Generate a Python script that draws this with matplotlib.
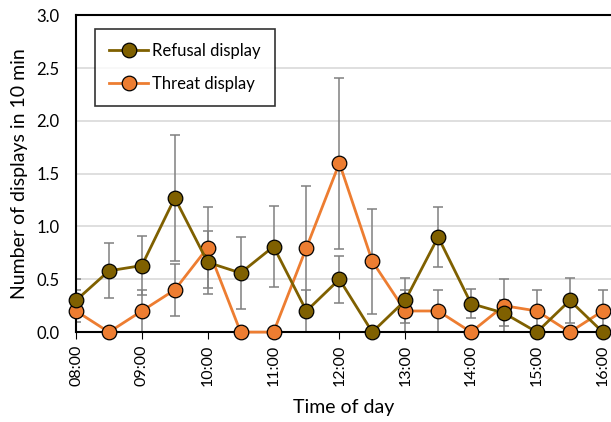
import numpy as np
import matplotlib.pyplot as plt

plt.rcParams['font.family'] = ['Lato', 'DejaVu Sans']

times = ["08:00", "08:30", "09:00", "09:30", "10:00", "10:30", "11:00", "11:30",
         "12:00", "12:30", "13:00", "13:30", "14:00", "14:30", "15:00", "15:30", "16:00"]
refusal = [0.30, 0.58, 0.63, 1.27, 0.66, 0.56, 0.81, 0.20,
           0.50, 0.00, 0.30, 0.90, 0.27, 0.18, 0.00, 0.30, 0.00]
refusal_err = [0.20, 0.26, 0.28, 0.60, 0.30, 0.34, 0.38, 0.20,
               0.22, 0.00, 0.21, 0.28, 0.14, 0.12, 0.00, 0.21, 0.00]
threat = [0.20, 0.00, 0.20, 0.40, 0.80, 0.00, 0.00, 0.80,
          1.60, 0.67, 0.20, 0.20, 0.00, 0.25, 0.20, 0.00, 0.20]
threat_err = [0.20, 0.00, 0.20, 0.245, 0.38, 0.00, 0.00, 0.58,
              0.81, 0.50, 0.20, 0.20, 0.00, 0.25, 0.20, 0.00, 0.20]

x = np.arange(len(times))

fig = plt.figure(figsize=(6.11, 4.22), dpi=100)
ax = fig.add_axes([0.1244, 0.213, 0.8756, 0.751])

for vals, errs in [(refusal, refusal_err), (threat, threat_err)]:
    ax.errorbar(x, vals, yerr=errs, fmt="none", ecolor="#808080",
                elinewidth=1.1, capsize=3.5, capthick=1.1, zorder=2)

ax.plot(x, refusal, color="#7F6000", lw=2, marker="o", ms=10.5,
        mfc="#7F6000", mec="black", mew=0.9, label="Refusal display",
        zorder=4, clip_on=False)
ax.plot(x, threat, color="#ED7D31", lw=2, marker="o", ms=10.5,
        mfc="#ED7D31", mec="black", mew=0.9, label="Threat display",
        zorder=3, clip_on=False)

ax.set_xlim(0, 16.25)
ax.set_ylim(0, 3.0)
yt = np.arange(0, 3.01, 0.5)
ax.set_yticks(yt)
ax.set_yticklabels([f"{v:.1f}" for v in yt], fontsize=12)
ax.set_xticks(x[::2])
ax.set_xticklabels(times[::2], rotation=90, fontsize=11.5)
ax.tick_params(axis="y", length=0, pad=12)
ax.tick_params(axis="x", length=5, direction="out", color="black", pad=4)
ax.yaxis.grid(True, color="#d9d9d9", lw=1.2)
ax.set_axisbelow(True)

for s in ax.spines.values():
    s.set_linewidth(1.5)
    s.set_color("black")
ax.spines["right"].set_visible(False)

ax.set_xlabel("Time of day", fontsize=14, labelpad=9)
ax.set_ylabel("Number of displays in 10 min", fontsize=14, labelpad=6)

leg = ax.legend(loc="upper left", bbox_to_anchor=(0.036, 0.956), borderaxespad=0,
                fontsize=12, frameon=True, fancybox=False, edgecolor="black",
                handlelength=2.3, handletextpad=0.25, borderpad=0.85,
                labelspacing=1.0)
leg.get_frame().set_linewidth(1.2)

fig.savefig("out.png", dpi=100)
